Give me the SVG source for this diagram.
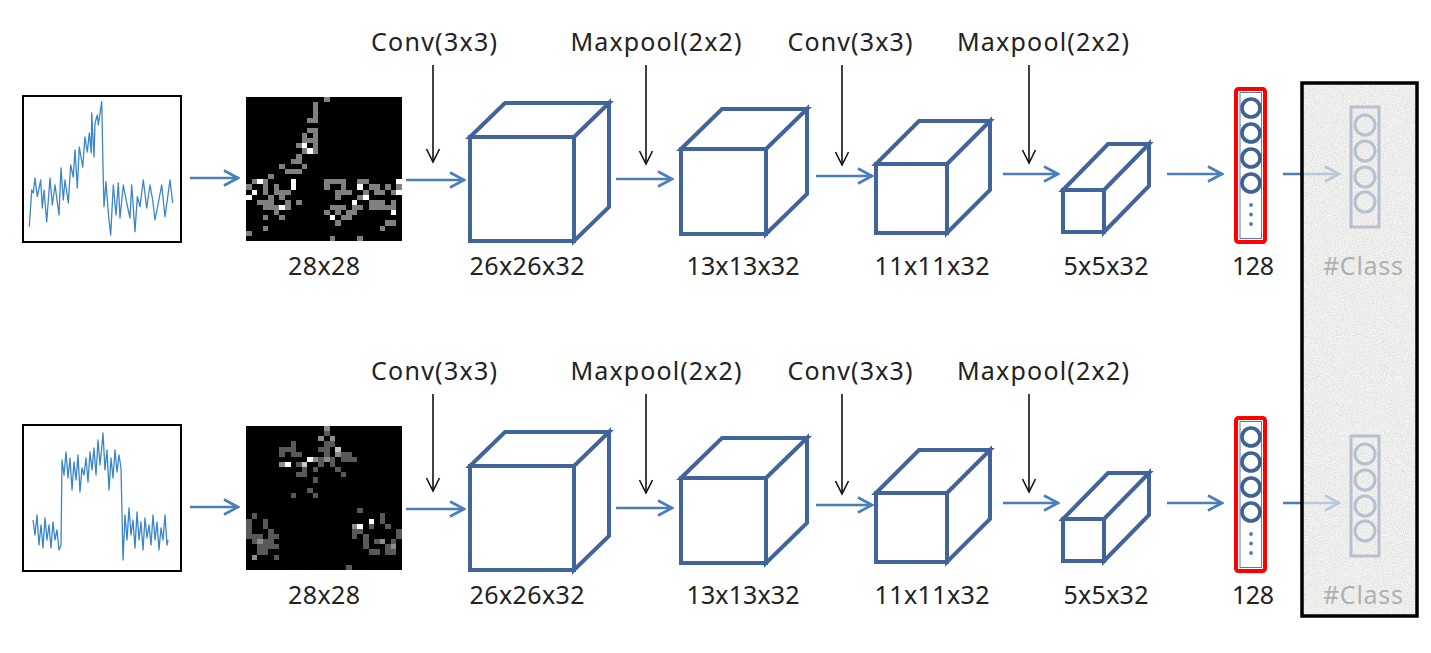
<svg xmlns="http://www.w3.org/2000/svg" width="1431" height="653" viewBox="0 0 1431 653">
<style>
text{font-family:"Noto Sans","Open Sans","DejaVu Sans",sans-serif;font-size:25px;fill:#222;text-anchor:middle}
.cube{fill:#fff;stroke:#41649a;stroke-width:4;stroke-linejoin:miter}
.sig{fill:none;stroke:#3a86c8;stroke-width:1.3;stroke-linejoin:round}
.box{fill:#fff;stroke:#000;stroke-width:2}
.ba{stroke:#4a7ebb;stroke-width:2.6;fill:none;marker-end:url(#ab)}
.ka{stroke:#111;stroke-width:1.6;fill:none;marker-end:url(#ak)}
.cir{fill:none;stroke:#3e6196;stroke-width:3.6}
.dot{fill:#4a7ebb}
.red{fill:none;stroke:#ff0000;stroke-width:4}
.inner{fill:#fff;stroke:#5a7bb0;stroke-width:1}
.fv{fill:none;stroke:#3e6196;stroke-width:3}
.px{shape-rendering:crispEdges}
</style>
<defs>
<marker id="ab" markerWidth="18" markerHeight="18" refX="16" refY="9" orient="auto" markerUnits="userSpaceOnUse"><path d="M2,1.5 L16,9 L2,16.5" fill="none" stroke="#4a7ebb" stroke-width="2.6"/></marker>
<marker id="ak" markerWidth="16" markerHeight="16" refX="14" refY="7.5" orient="auto" markerUnits="userSpaceOnUse"><path d="M1,1 L14,7.5 L1,14" fill="none" stroke="#111" stroke-width="1.6"/></marker>
<filter id="grain" x="0" y="0" width="100%" height="100%"><feTurbulence type="fractalNoise" baseFrequency="0.9" numOctaves="2" seed="3"/><feColorMatrix type="matrix" values="0 0 0 0 0.5  0 0 0 0 0.5  0 0 0 0 0.5  0 0 0 -1.0 0.62"/><feComposite in2="SourceGraphic" operator="in"/></filter>
</defs>
<rect width="1431" height="653" fill="#fff"/>

<g id="connectors">
<path class="ba" d="M190,178 H238"/>
<path class="ba" d="M406,180 H464"/>
<path class="ba" d="M616,179 H672"/>
<path class="ba" d="M816,176 H872"/>
<path class="ba" d="M1003,174 H1058"/>
<path class="ba" d="M1167,174 H1222"/>
<path class="ba" d="M1283,174 H1339"/>
<path class="ka" d="M433,65 V162"/>
<path class="ka" d="M646,65 V164"/>
<path class="ka" d="M842,65 V165"/>
<path class="ka" d="M1029,65 V163"/>
<path class="ba" d="M190,507 H238"/>
<path class="ba" d="M406,509 H464"/>
<path class="ba" d="M616,508 H672"/>
<path class="ba" d="M816,505 H872"/>
<path class="ba" d="M1003,503 H1058"/>
<path class="ba" d="M1167,503 H1222"/>
<path class="ba" d="M1283,503 H1339"/>
<path class="ka" d="M433,394 V491"/>
<path class="ka" d="M646,394 V493"/>
<path class="ka" d="M842,394 V494"/>
<path class="ka" d="M1029,394 V492"/>
</g>

<g id="op-labels">
<text x="434" y="51" textLength="126">Conv(3x3)</text>
<text x="656" y="51" textLength="171">Maxpool(2x2)</text>
<text x="850" y="51" textLength="125">Conv(3x3)</text>
<text x="1043" y="51" textLength="172">Maxpool(2x2)</text>
<text x="434" y="380" textLength="126">Conv(3x3)</text>
<text x="656" y="380" textLength="171">Maxpool(2x2)</text>
<text x="850" y="380" textLength="125">Conv(3x3)</text>
<text x="1043" y="380" textLength="172">Maxpool(2x2)</text>
</g>

<!-- Row 1 -->
<g id="signal1">
<rect class="box" x="23" y="96" width="158" height="146"/>
<polyline class="sig" points="29.3,226.7 31.7,190 33.3,193 35,178 37.3,196.7 40.7,180 42.3,208 44,190 46.7,221.7 50,178 52.3,205 55,185 59,215 61,168 63.3,200 65,180 68.3,203 70.7,165 73.3,177 75,150 77.3,188 79.3,147 82.7,167 85,137 87.3,152 89.3,133 91.3,153 91.7,113 94,157 95,123 97.3,115 98.3,125 101.7,101.7 103.3,180 104,206.7 106,181.7 108.3,213 110.7,235 113.3,185 116,215 118.3,183 120,218 123.3,185 126.7,203 130,218 131.7,185 135,231.7 137.3,196.7 140,206.7 143.3,180 146.7,208 150,185 152.7,200 155,220 158.3,203 161.7,185 165,216.7 170,180 172.7,203"/>
</g>
<g id="image1">
<g class="px" transform="translate(246,97) scale(5.5714,5.1429)">
<rect width="28" height="28" fill="#000"/>
<path fill="#808080" d="M14,0h1v1h-1zM12,1h1v1h-1zM12,2h1v1h-1zM12,3h1v1h-1zM11,4h1v1h-1zM12,4h1v1h-1zM11,6h1v1h-1zM12,6h1v1h-1zM10,7h1v1h-1zM12,7h1v1h-1zM10,8h1v1h-1zM11,8h1v1h-1zM12,8h1v1h-1zM9,9h1v1h-1zM12,9h1v1h-1zM10,10h1v1h-1zM12,10h1v1h-1zM9,11h1v1h-1zM8,12h1v1h-1zM9,12h1v1h-1zM6,13h1v1h-1zM10,13h1v1h-1zM7,14h1v1h-1zM8,14h1v1h-1zM9,14h1v1h-1zM4,15h1v1h-1zM1,16h1v1h-1zM3,16h1v1h-1zM0,17h1v1h-1zM3,17h1v1h-1zM5,17h1v1h-1zM1,18h1v1h-1zM3,18h1v1h-1zM5,18h1v1h-1zM6,18h1v1h-1zM7,18h1v1h-1zM4,19h1v1h-1zM6,19h1v1h-1zM2,20h1v1h-1zM3,20h1v1h-1zM4,20h1v1h-1zM7,20h1v1h-1zM9,20h1v1h-1zM3,21h1v1h-1zM4,21h1v1h-1zM5,21h1v1h-1zM7,21h1v1h-1zM5,22h1v1h-1zM3,23h1v1h-1zM6,23h1v1h-1zM3,25h1v1h-1zM0,26h1v1h-1zM14,16h1v1h-1zM15,16h1v1h-1zM16,16h1v1h-1zM17,16h1v1h-1zM14,17h1v1h-1zM17,17h1v1h-1zM16,18h1v1h-1zM17,18h1v1h-1zM18,18h1v1h-1zM16,19h1v1h-1zM20,16h1v1h-1zM21,16h1v1h-1zM22,17h1v1h-1zM23,17h1v1h-1zM25,17h1v1h-1zM27,17h1v1h-1zM21,18h1v1h-1zM23,18h1v1h-1zM24,18h1v1h-1zM26,18h1v1h-1zM20,19h1v1h-1zM22,20h1v1h-1zM23,20h1v1h-1zM24,20h1v1h-1zM26,20h1v1h-1zM15,21h1v1h-1zM16,21h1v1h-1zM17,21h1v1h-1zM19,21h1v1h-1zM20,21h1v1h-1zM22,21h1v1h-1zM23,21h1v1h-1zM24,21h1v1h-1zM25,21h1v1h-1zM26,21h1v1h-1zM14,22h1v1h-1zM16,22h1v1h-1zM18,22h1v1h-1zM19,22h1v1h-1zM17,23h1v1h-1zM18,23h1v1h-1zM16,24h1v1h-1zM25,24h1v1h-1zM26,24h1v1h-1zM24,25h1v1h-1zM15,27h1v1h-1zM20,27h1v1h-1z"/>
<path fill="#fff" d="M10,9h1v1h-1zM11,10h1v1h-1zM8,16h1v1h-1zM2,16h1v1h-1zM1,18h1v1h-1zM0,19h1v1h-1zM6,21h1v1h-1zM8,17h1v1h-1zM20,17h1v1h-1zM21,19h1v1h-1zM19,20h1v1h-1zM15,23h1v1h-1zM26,22h1v1h-1zM27,16h1v1h-1zM27,18h1v1h-1z"/>
</g>
</g>
<g id="cube1a"><path class="cube" d="M470,137 l35,-34 h104 l-35,34 z M574,137 l35,-34 v104 l-35,34 z M470,137 h104 v104 h-104 z"/></g>
<g id="cube2a"><path class="cube" d="M681,149 l41,-40 h85 l-41,40 z M766,149 l41,-40 v85 l-41,40 z M681,149 h85 v85 h-85 z"/></g>
<g id="cube3a"><path class="cube" d="M876,164 l43,-43 h71 l-43,43 z M947,164 l43,-43 v69 l-43,43 z M876,164 h71 v69 h-71 z"/></g>
<g id="cube4a"><path class="cube" d="M1063,190 l45,-46 h41 l-45,46 z M1104,190 l45,-46 v42 l-45,46 z M1063,190 h41 v42 h-41 z"/></g>
<g id="dense1">
<rect class="red" x="1236" y="89" width="29" height="153" rx="2.5"/>
<rect class="inner" x="1240" y="92.5" width="21.5" height="146"/>
<circle class="cir" cx="1251" cy="108" r="9"/>
<circle class="cir" cx="1251" cy="133" r="9"/>
<circle class="cir" cx="1251" cy="158" r="9"/>
<circle class="cir" cx="1251" cy="183" r="9"/>
<circle class="dot" cx="1251" cy="205" r="1.9"/>
<circle class="dot" cx="1251" cy="214.5" r="1.9"/>
<circle class="dot" cx="1251" cy="224" r="1.9"/>
</g>
<g id="dims1">
<text x="324" y="275" textLength="72">28x28</text>
<text x="527" y="275" textLength="115">26x26x32</text>
<text x="743" y="275" textLength="113">13x13x32</text>
<text x="932" y="275" textLength="115">11x11x32</text>
<text x="1106" y="275" textLength="85">5x5x32</text>
<text x="1253" y="275" textLength="42">128</text>
</g>

<!-- Row 2 -->
<g id="signal2">
<rect class="box" x="23" y="425" width="158" height="146"/>
<polyline class="sig" points="33,520 35,535 37,515 39,545 41,525 43,548 45,518 47,540 49,525 51,548 53,522 55,540 57,530 59,550 61,545 62,460 64,475 66,452 68,478 70,458 72,490 74,462 76,480 78,455 80,492 82,468 84,475 86,458 88,482 90,452 92,470 94,448 96,475 98,440 100,465 102,445 103,433 105,470 107,450 109,490 111,458 113,478 115,450 117,472 119,455 121,468 123,560 125,515 127,540 129,508 131,535 133,520 135,548 137,512 139,540 141,522 143,550 145,518 147,538 149,525 151,545 153,515 155,540 157,522 159,550 161,528 163,540 165,515 167,545 168,540"/>
</g>
<g id="image2">
<g class="px" transform="translate(246,426) scale(5.5714,5.1429)">
<rect width="28" height="28" fill="#000"/>
<path fill="#595959" d="M8,3h1v1h-1zM6,4h1v1h-1zM7,4h1v1h-1zM8,4h1v1h-1zM6,5h1v1h-1zM8,5h1v1h-1zM9,5h1v1h-1zM13,4h1v1h-1zM14,4h1v1h-1zM17,5h1v1h-1zM18,5h1v1h-1zM17,6h1v1h-1zM18,6h1v1h-1zM13,6h1v1h-1zM14,5h1v1h-1zM10,8h1v1h-1zM9,9h1v1h-1zM10,9h1v1h-1zM15,7h1v1h-1zM16,8h1v1h-1zM17,9h1v1h-1zM12,10h1v1h-1zM8,13h1v1h-1zM11,12h1v1h-1zM12,13h1v1h-1zM14,1h1v1h-1zM14,3h1v1h-1zM15,3h1v1h-1zM13,7h1v1h-1zM19,6h1v1h-1zM9,7h1v1h-1zM12,8h1v1h-1zM15,6h1v1h-1zM1,17h1v1h-1zM0,18h1v1h-1zM0,19h1v1h-1zM3,18h1v1h-1zM3,19h1v1h-1zM4,20h1v1h-1zM0,20h1v1h-1zM0,21h1v1h-1zM1,21h1v1h-1zM2,21h1v1h-1zM4,21h1v1h-1zM5,21h1v1h-1zM1,22h1v1h-1zM3,22h1v1h-1zM4,22h1v1h-1zM2,23h1v1h-1zM3,23h1v1h-1zM4,23h1v1h-1zM5,23h1v1h-1zM2,24h1v1h-1zM3,24h1v1h-1zM5,25h1v1h-1zM20,16h1v1h-1zM24,17h1v1h-1zM24,18h1v1h-1zM25,19h1v1h-1zM19,20h1v1h-1zM19,21h1v1h-1zM21,21h1v1h-1zM21,22h1v1h-1zM21,23h1v1h-1zM22,24h1v1h-1zM23,24h1v1h-1zM23,22h1v1h-1zM25,23h1v1h-1zM26,22h1v1h-1zM27,21h1v1h-1zM27,20h1v1h-1zM26,24h1v1h-1zM25,24h1v1h-1zM20,20h1v1h-1zM18,27h1v1h-1zM22,19h1v1h-1z"/>
<path fill="#8c8c8c" d="M14,0h1v1h-1zM13,2h1v1h-1zM15,2h1v1h-1zM6,7h1v1h-1zM12,6h1v1h-1zM16,5h1v1h-1zM14,6h1v1h-1zM19,19h1v1h-1zM24,22h1v1h-1zM2,22h1v1h-1zM1,25h1v1h-1zM26,23h1v1h-1z"/>
<path fill="#c8c8c8" d="M10,7h1v1h-1zM16,4h1v1h-1z"/>
<path fill="#fff" d="M7,7h1v1h-1zM11,6h1v1h-1zM20,19h1v1h-1zM22,18h1v1h-1z"/>
</g>
</g>
<g id="cube1b"><path class="cube" d="M470,466 l35,-34 h104 l-35,34 z M574,466 l35,-34 v104 l-35,34 z M470,466 h104 v104 h-104 z"/></g>
<g id="cube2b"><path class="cube" d="M681,478 l41,-40 h85 l-41,40 z M766,478 l41,-40 v85 l-41,40 z M681,478 h85 v85 h-85 z"/></g>
<g id="cube3b"><path class="cube" d="M876,493 l43,-43 h71 l-43,43 z M947,493 l43,-43 v69 l-43,43 z M876,493 h71 v69 h-71 z"/></g>
<g id="cube4b"><path class="cube" d="M1063,519 l45,-46 h41 l-45,46 z M1104,519 l45,-46 v42 l-45,46 z M1063,519 h41 v42 h-41 z"/></g>
<g id="dense2">
<rect class="red" x="1236" y="418" width="29" height="153" rx="2.5"/>
<rect class="inner" x="1240" y="421.5" width="21.5" height="146"/>
<circle class="cir" cx="1251" cy="437" r="9"/>
<circle class="cir" cx="1251" cy="462" r="9"/>
<circle class="cir" cx="1251" cy="487" r="9"/>
<circle class="cir" cx="1251" cy="512" r="9"/>
<circle class="dot" cx="1251" cy="534" r="1.9"/>
<circle class="dot" cx="1251" cy="543.5" r="1.9"/>
<circle class="dot" cx="1251" cy="553" r="1.9"/>
</g>
<g id="dims2">
<text x="324" y="604" textLength="72">28x28</text>
<text x="527" y="604" textLength="115">26x26x32</text>
<text x="743" y="604" textLength="113">13x13x32</text>
<text x="932" y="604" textLength="115">11x11x32</text>
<text x="1106" y="604" textLength="85">5x5x32</text>
<text x="1253" y="604" textLength="42">128</text>
</g>

<!-- Faded output panel -->
<g id="output">
<rect class="fv" x="1351" y="107" width="28" height="120"/>
<circle class="fv" cx="1365" cy="125" r="10"/>
<circle class="fv" cx="1365" cy="151" r="10"/>
<circle class="fv" cx="1365" cy="177" r="10"/>
<circle class="fv" cx="1365" cy="202" r="10"/>
<text x="1363" y="275" textLength="80">#Class</text>
<rect class="fv" x="1351" y="436" width="28" height="120"/>
<circle class="fv" cx="1365" cy="454" r="10"/>
<circle class="fv" cx="1365" cy="480" r="10"/>
<circle class="fv" cx="1365" cy="506" r="10"/>
<circle class="fv" cx="1365" cy="531" r="10"/>
<text x="1363" y="604" textLength="80">#Class</text>
<rect x="1302" y="83" width="115" height="533" fill="#efefed" fill-opacity="0.68"/>
<rect x="1302" y="83" width="115" height="533" fill="#fff" filter="url(#grain)"/>
<rect x="1302" y="83" width="115" height="533" fill="none" stroke="#000" stroke-width="3.5"/>
</g>
</svg>
